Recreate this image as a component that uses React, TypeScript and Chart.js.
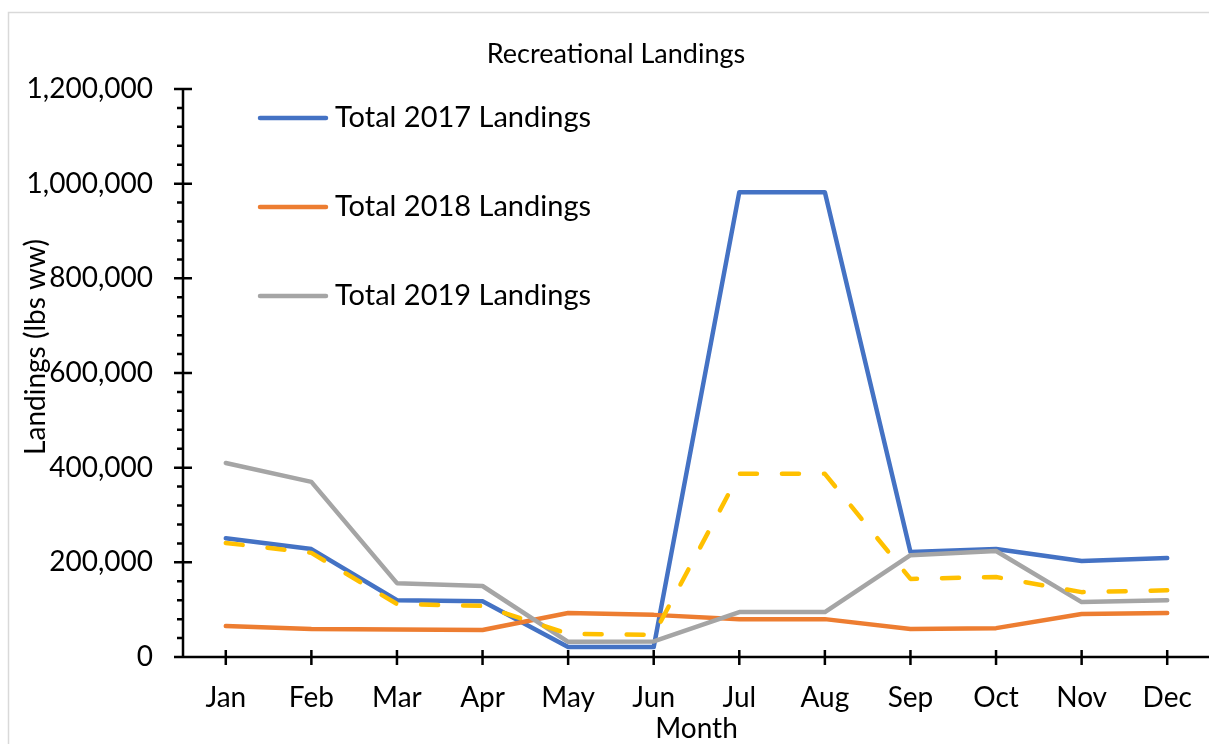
import React, { useEffect, useRef } from "react";
import { Chart, registerables } from "chart.js";

Chart.register(...registerables);

// ---- data ----
const months = ["Jan", "Feb", "Mar", "Apr", "May", "Jun", "Jul", "Aug", "Sep", "Oct", "Nov", "Dec"];
const total2017 = [251000, 228000, 120000, 118000, 21000, 21000, 982000, 982000, 222000, 228000, 203000, 209000];
const total2018 = [65500, 59000, 58000, 57000, 93000, 89000, 80000, 80000, 59000, 61000, 91000, 93000];
const total2019 = [410000, 370000, 156000, 150000, 32000, 33000, 95000, 95000, 215000, 224000, 116000, 120000];
const averageLandings = [241000, 220000, 112000, 108000, 49000, 47000, 387000, 387000, 165000, 169000, 137000, 141000];
const yTickValues = [0, 200000, 400000, 600000, 800000, 1000000, 1200000];
const seriesLabels = ["Total 2017 Landings", "Total 2018 Landings", "Total 2019 Landings", "Average"];

const chartTitle = "Recreational Landings";
const xTitle = "Month";
const yTitle = "Landings (lbs ww)";

const COLORS = ["#4472C4", "#ED7D31", "#A5A5A5", "#FFC000"];
const FONT = "Lato";

const CANVAS_W = 1230;
const CANVAS_H = 760;

const decorPlugin = {
  id: "decor",
  beforeDatasetsDraw(chart: any) {
    const ctx = chart.ctx as CanvasRenderingContext2D;
    const xs = chart.scales.x;
    const ys = chart.scales.y;
    const { left, right, top, bottom } = chart.chartArea;
    ctx.save();
    // outer chart border
    ctx.strokeStyle = "#d9d9d9";
    ctx.lineWidth = 1.5;
    ctx.strokeRect(8.5, 12.5, 1400, 900);

    ctx.strokeStyle = "#000";
    ctx.lineWidth = 2.5;
    ctx.lineCap = "butt";
    ctx.beginPath();
    ctx.moveTo(left, top - 1);
    ctx.lineTo(left, bottom);
    ctx.moveTo(left - 1, bottom);
    ctx.lineTo(right + 10, bottom);
    // major y ticks
    for (const v of yTickValues) {
      const py = ys.getPixelForValue(v);
      ctx.moveTo(left - 9, py);
      ctx.lineTo(left + 9, py);
    }
    // minor y ticks
    for (let v = 40000; v < 1200000; v += 40000) {
      if (v % 200000 === 0) continue;
      const py = ys.getPixelForValue(v);
      ctx.moveTo(left - 6, py);
      ctx.lineTo(left, py);
    }
    // x ticks
    for (let i = 0; i < months.length; i++) {
      const px = xs.getPixelForValue(i);
      ctx.moveTo(px, bottom - 7);
      ctx.lineTo(px, bottom + 8);
    }
    ctx.stroke();
    ctx.restore();
  },
  afterDraw(chart: any) {
    const ctx = chart.ctx as CanvasRenderingContext2D;
    const { left, right } = chart.chartArea;
    ctx.save();
    ctx.fillStyle = "#000";
    // chart title
    ctx.font = `27px ${FONT}`;
    ctx.textAlign = "center";
    ctx.textBaseline = "alphabetic";
    ctx.fillText(chartTitle, 616, 63);
    // x title
    ctx.font = `28px ${FONT}`;
    ctx.fillText(xTitle, (left + right) / 2, 738);
    // y title
    ctx.save();
    ctx.translate(45, 347);
    ctx.rotate(-Math.PI / 2);
    ctx.textAlign = "center";
    ctx.fillText(yTitle, 0, 0);
    ctx.restore();
    // legend
    const rows = [118, 207, 296];
    for (let i = 0; i < 3; i++) {
      const ds = chart.data.datasets[i];
      const ly = rows[i];
      ctx.strokeStyle = ds.borderColor;
      ctx.lineWidth = 4.5;
      ctx.lineCap = "round";
      ctx.beginPath();
      ctx.moveTo(260, ly);
      ctx.lineTo(326, ly);
      ctx.stroke();
      ctx.textAlign = "left";
      ctx.fillStyle = "#000";
      ctx.font = `29px ${FONT}`;
      ctx.fillText(ds.label, 335, ly + 8.5);
    }
    ctx.restore();
  },
};

export default function App() {
  const canvasRef = useRef<HTMLCanvasElement | null>(null);

  useEffect(() => {
    const canvas = canvasRef.current;
    if (!canvas) return;
    const lineDs = (i: number, data: number[], order: number, dash?: number[]) => ({
      label: seriesLabels[i],
      data,
      borderColor: COLORS[i],
      backgroundColor: COLORS[i],
      borderWidth: 4.5,
      borderDash: dash || [],
      borderCapStyle: "round" as const,
      borderJoinStyle: "round" as const,
      pointRadius: 0,
      pointHoverRadius: 0,
      tension: 0,
      fill: false,
      order,
    });
    const chart = new Chart(canvas, {
      type: "line",
      data: {
        labels: months,
        datasets: [
          lineDs(0, total2017, 4),
          lineDs(1, total2018, 3),
          lineDs(2, total2019, 2),
          lineDs(3, averageLandings, 1, [17, 25]),
        ],
      },
      options: {
        responsive: false,
        animation: false,
        devicePixelRatio: 1,
        layout: { padding: { left: 0, top: 89, right: CANVAS_W - 1210, bottom: 0 } },
        plugins: {
          legend: { display: false },
          title: { display: false },
          tooltip: { enabled: false },
        },
        scales: {
          x: {
            type: "category",
            offset: true,
            grid: { display: false, drawTicks: false },
            border: { display: false },
            ticks: {
              autoSkip: false,
              maxRotation: 0,
              minRotation: 0,
              padding: 24,
              color: "#000",
              font: { family: FONT, size: 28 },
            },
            afterFit: (s: any) => {
              s.height = CANVAS_H - 657;
            },
          },
          y: {
            min: 0,
            max: 1200000,
            grid: { display: false, drawTicks: false },
            border: { display: false },
            afterBuildTicks: (s: any) => {
              s.ticks = yTickValues.map((v) => ({ value: v }));
            },
            ticks: {
              padding: 30,
              color: "#000",
              font: { family: FONT, size: 28 },
              callback: (v: any) => Number(v).toLocaleString("en-US"),
            },
            afterFit: (s: any) => {
              s.width = 183;
            },
          },
        },
      },
      plugins: [decorPlugin],
    });
    return () => chart.destroy();
  }, []);

  return (
    <div
      style={{
        position: "fixed",
        left: 0,
        top: 0,
        width: 1209,
        height: 744,
        overflow: "hidden",
        background: "#fff",
      }}
    >
      <canvas
        ref={canvasRef}
        width={CANVAS_W}
        height={CANVAS_H}
        style={{ position: "absolute", left: 0, top: 0, width: CANVAS_W, height: CANVAS_H }}
      />
    </div>
  );
}
